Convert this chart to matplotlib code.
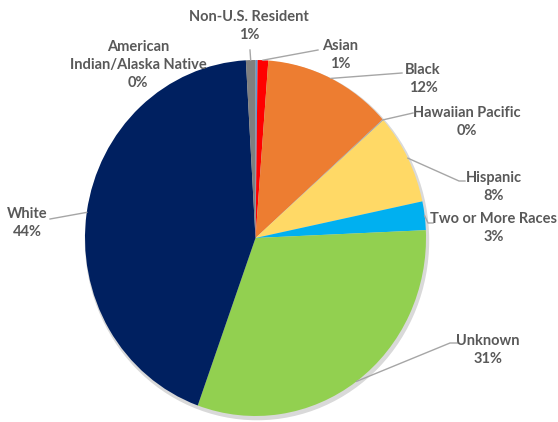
import numpy as np
import matplotlib
matplotlib.use("Agg")
import matplotlib.pyplot as plt
import matplotlib.patches as mPatch

# Enrollment by race / ethnicity (percent)
categories = ["American\nIndian/Alaska Native", "Asian", "Black", "Hawaiian Pacific", "Hispanic",
              "Two or More Races", "Unknown", "White", "Non-U.S. Resident"]
shares = [0.2, 1.0, 12.2, 0.1, 8.2, 2.6, 31.2, 43.6, 0.9]
colours = ["#5B9BD5", "#FF0000", "#ED7D31", "#A5A5A5", "#FFD966",
           "#00B0F0", "#92D050", "#002060", "#7F7F7F"]

TEXT_COLOUR = "#595959"
LEADER_COLOUR = "#A6A6A6"
W, H = 558, 422
CX, CY = 255.5, 238      # pie centre in pixels
RX, RY = 170.5, 178      # pie radius in pixels (slightly stretched)

def px(x, y):
    # pixel position -> data units
    return (x - CX) / RX, (CY - y) / RY

# label block centres and leader line points (pixels)
label_pos = [(138, 65), (340, 55), (423, 79), (467, 122), (494, 187),
             (494, 228), (488, 350), (27, 223), (249, 26)]
leader_pts = [None, [(318, 50)], [(402, 73)], [(413, 113)], [(459, 181), (465, 181)],
              [(428, 223), (433, 223)], [(450, 343), (458, 343)], [(50, 219)], [(250, 50)]]

fig = plt.figure(figsize=(W / 100, H / 100), dpi=100)
ax = fig.add_axes([0, 0, 1, 1])

# soft drop shadow under the pie
shadow = mPatch.Ellipse((1.5 / RX, -2.5 / RY), 2.02, 2.02, facecolor="#000000", alpha=0.15,
                        edgecolor="none", zorder=0)
ax.add_patch(shadow)

wedges, _ = ax.pie(shares, colors=colours, startangle=90, counterclock=False, radius=1,
                   center=(0, 0), wedgeprops=dict(linewidth=0, zorder=1))

ax.set_aspect("auto")
ax.set_xlim(-CX / RX, (W - CX) / RX)
ax.set_ylim(-(H - CY) / RY, CY / RY)
ax.axis("off")

cum = np.cumsum(shares) - np.array(shares) / 2
for i, name in enumerate(categories):
    txt = f"{name}\n{shares[i]:.0f}%"
    lx, ly = px(*label_pos[i])
    ax.text(lx, ly, txt, ha="center", va="center", color=TEXT_COLOUR, fontsize=10.5,
            fontweight="bold", family=["Lato", "DejaVu Sans"], linespacing=1.4)
    if leader_pts[i] is None:
        continue
    ang = np.deg2rad(cum[i] / 100 * 360)
    xs = [np.sin(ang)]
    ys = [np.cos(ang)]
    for p in leader_pts[i]:
        x, y = px(*p)
        xs.append(x)
        ys.append(y)
    ax.plot(xs, ys, color=LEADER_COLOUR, lw=1, zorder=2)

fig.savefig("out.png", dpi=100)
